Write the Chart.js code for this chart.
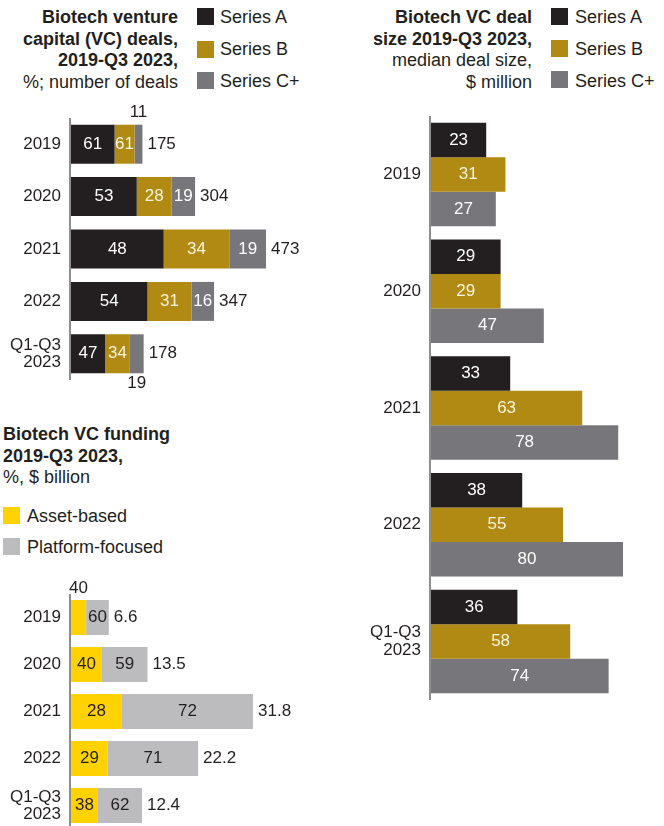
<!DOCTYPE html>
<html>
<head>
<meta charset="utf-8">
<script src="https://cdn.jsdelivr.net/npm/chart.js@4.4.1/dist/chart.umd.min.js"></script>
<style>
  body { margin: 0; width: 664px; height: 826px; overflow: hidden; background: #fff; position: relative;
         font-family: "Liberation Sans", Arial, sans-serif; color: #231f20; }
  .title { position: absolute; font-size: 18px; line-height: 21.5px; }
  .title b { font-weight: bold; }
  .sw { position: absolute; width: 17px; height: 17px; }
  .lt { position: absolute; font-size: 18px; line-height: 20px; white-space: nowrap; }
  canvas { position: absolute; }
</style>
</head>
<body>

<div class="title" style="left:0;top:7px;width:178px;text-align:right;">
  <b>Biotech venture<br>capital (VC) deals,<br>2019-Q3 2023,</b><br>%; number of deals
</div>
<div class="sw" style="left:197px;top:8px;background:#231f20"></div>
<div class="sw" style="left:197px;top:41px;background:#b08a12"></div>
<div class="sw" style="left:197px;top:72px;background:#77777b"></div>
<div class="lt" style="left:220px;top:7px">Series A</div>
<div class="lt" style="left:220px;top:39px">Series B</div>
<div class="lt" style="left:220px;top:71px">Series C+</div>

<div class="title" style="left:3px;top:424px;">
  <b>Biotech VC funding<br>2019-Q3 2023,</b><br>%, $ billion
</div>
<div class="sw" style="left:3px;top:507px;background:#ffd200"></div>
<div class="sw" style="left:3px;top:538px;background:#bcbcbf"></div>
<div class="lt" style="left:27px;top:506px">Asset-based</div>
<div class="lt" style="left:27px;top:537px">Platform-focused</div>

<div class="title" style="left:330px;top:7px;width:202px;text-align:right;">
  <b>Biotech VC deal<br>size 2019-Q3 2023,</b><br>median deal size,<br>$ million
</div>
<div class="sw" style="left:551px;top:8px;background:#231f20"></div>
<div class="sw" style="left:551px;top:40px;background:#b08a12"></div>
<div class="sw" style="left:551px;top:71px;background:#77777b"></div>
<div class="lt" style="left:575px;top:7px">Series A</div>
<div class="lt" style="left:575px;top:39px">Series B</div>
<div class="lt" style="left:575px;top:71px">Series C+</div>

<canvas id="dealsChart" width="330" height="306" style="left:0;top:96px"></canvas>
<canvas id="fundChart" width="330" height="266" style="left:0;top:564px"></canvas>
<canvas id="sizeChart" width="334" height="600" style="left:330px;top:110px"></canvas>

<script>
const FONT = '"Liberation Sans", Arial, sans-serif';
const COL_A = '#231f20';
const COL_B = '#b08a12';
const COL_C = '#77777b';
const COL_ASSET = '#ffd200';
const COL_PLATFORM = '#bcbcbf';

const years = ['2019', '2020', '2021', '2022', ['Q1-Q3', '2023']];

// deals: number of deals per year, split by share (%)
const dealTotals = [175, 304, 473, 347, 178];
const dealShareA = [61, 53, 48, 54, 47];
const dealShareB = [28, 28, 34, 31, 34];
const dealShareC = [11, 19, 19, 16, 19];
const dealLabelB = ['61', '28', '34', '31', '34']; // as printed in the source

// funding: $ billion per year, split by share (%)
const fundTotals = [6.6, 13.5, 31.8, 22.2, 12.4];
const fundAsset = [40, 40, 28, 29, 38];
const fundPlatform = [60, 59, 72, 71, 62];

// median deal size, $ million
const sizeA = [23, 29, 33, 38, 36];
const sizeB = [31, 29, 63, 55, 58];
const sizeC = [27, 47, 78, 80, 74];


function split(totals, shares) {
    return totals.map((t, i) => t * shares[i] / 100);
}

// draws the axis line and the value labels of one chart
function labelPlugin(cfg) {
    return {
        id: 'labels_' + cfg.name,
        beforeDatasetsDraw(chart) {
            const a = chart.chartArea;
            const ctx = chart.ctx;
            ctx.save();
            ctx.strokeStyle = '#8e8e91';
            ctx.lineWidth = 2;
            ctx.beginPath();
            ctx.moveTo(a.left - 1, a.top);
            ctx.lineTo(a.left - 1, a.bottom);
            ctx.stroke();
            ctx.restore();
        },
        afterDatasetsDraw(chart) {
            const ctx = chart.ctx;
            ctx.save();
            ctx.font = '17px ' + FONT;
            ctx.textBaseline = 'middle';
            chart.data.datasets.forEach((ds, di) => {
                const meta = chart.getDatasetMeta(di);
                meta.data.forEach((bar, i) => {
                    const p = bar.getProps(['x', 'y', 'base', 'height'], true);
                    const pos = cfg.pos ? cfg.pos[di][i] : 'in';
                    let y = p.y;
                    ctx.fillStyle = cfg.colors[di];
                    if (pos === 'above') { y = p.y - p.height / 2 - 12; ctx.fillStyle = '#231f20'; }
                    if (pos === 'below') { y = p.y + p.height / 2 + 10; ctx.fillStyle = '#231f20'; }
                    ctx.textAlign = 'center';
                    ctx.fillText(cfg.texts[di][i], (p.x + p.base) / 2, y);
                });
            });
            if (cfg.totals) {
                const last = chart.getDatasetMeta(chart.data.datasets.length - 1);
                ctx.fillStyle = '#231f20';
                ctx.textAlign = 'left';
                last.data.forEach((bar, i) => {
                    const p = bar.getProps(['x', 'y'], true);
                    ctx.fillText(cfg.totals[i], p.x + cfg.gap, p.y);
                });
            }
            ctx.restore();
        }
    };
}

function barOptions(o) {
    return {
        indexAxis: 'y',
        responsive: false,
        animation: false,
        layout: { padding: o.padding },
        plugins: { legend: { display: false }, tooltip: { enabled: false } },
        scales: {
            x: { display: false, stacked: o.stacked, min: 0, max: o.max },
            y: {
                stacked: o.stacked,
                afterFit: (s) => {
                    s.width = o.axisWidth;
                    s.paddingTop = 0;
                    s.paddingBottom = 0;
                },
                grid: { display: false, drawTicks: false },
                border: { display: false },
                ticks: { color: '#231f20', padding: o.tickPad,
                         font: { family: FONT, size: 17, lineHeight: o.lineHeight } }
            }
        }
    };
}

function bar(data, color, catPct) {
    return { data, backgroundColor: color, borderWidth: 0, barPercentage: 1, categoryPercentage: catPct };
}

// deals chart
new Chart(document.getElementById('dealsChart'), {
    type: 'bar',
    data: {
        labels: years,
        datasets: [
            bar(split(dealTotals, dealShareA), COL_A, 0.744),
            bar(split(dealTotals, dealShareB), COL_B, 0.744),
            bar(split(dealTotals, dealShareC), COL_C, 0.744)
        ]
    },
    options: barOptions({ padding: { top: 22, bottom: 22, left: 0, right: 10 }, stacked: true,
                          max: 610, axisWidth: 71, tickPad: 10, lineHeight: 1.0 }),
    plugins: [labelPlugin({
        name: 'deals',
        texts: [dealShareA.map(String), dealLabelB, dealShareC.map(String)],
        colors: ['#ffffff', '#fbf3dc', '#ffffff'],
        pos: [['in', 'in', 'in', 'in', 'in'], ['in', 'in', 'in', 'in', 'in'],
              ['above', 'in', 'in', 'in', 'below']],
        totals: dealTotals.map(String),
        gap: 5
    })]
});

// funding chart
new Chart(document.getElementById('fundChart'), {
    type: 'bar',
    data: {
        labels: years,
        datasets: [
            bar(split(fundTotals, fundAsset), COL_ASSET, 0.745),
            bar(split(fundTotals, fundPlatform), COL_PLATFORM, 0.745)
        ]
    },
    options: barOptions({ padding: { top: 30, bottom: 1, left: 0, right: 10 }, stacked: true,
                          max: 43.5, axisWidth: 71, tickPad: 10, lineHeight: 1.0 }),
    plugins: [labelPlugin({
        name: 'fund',
        texts: [fundAsset.map(String), fundPlatform.map(String)],
        colors: ['#231f20', '#231f20'],
        pos: [['above', 'in', 'in', 'in', 'in'], ['in', 'in', 'in', 'in', 'in']],
        totals: fundTotals.map(v => v.toFixed(1)),
        gap: 5
    })]
});

// deal size chart
new Chart(document.getElementById('sizeChart'), {
    type: 'bar',
    data: {
        labels: years,
        datasets: [
            bar(sizeA, COL_A, 0.886),
            bar(sizeB, COL_B, 0.886),
            bar(sizeC, COL_C, 0.886)
        ]
    },
    options: barOptions({ padding: { top: 6, bottom: 10, left: 0, right: 4 }, stacked: false,
                          max: 95.4, axisWidth: 101, tickPad: 10, lineHeight: 1.08 }),
    plugins: [labelPlugin({
        name: 'size',
        texts: [sizeA.map(String), sizeB.map(String), sizeC.map(String)],
        colors: ['#ffffff', '#fbf3dc', '#ffffff']
    })]
});
</script>
</body>
</html>
